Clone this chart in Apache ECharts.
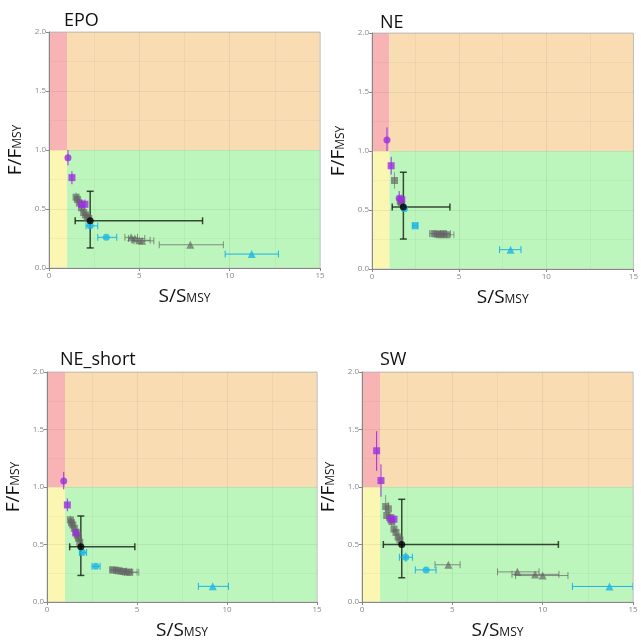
<!DOCTYPE html>
<html>
<head>
<meta charset="utf-8">
<script src="https://cdn.jsdelivr.net/npm/echarts@6/dist/echarts.min.js"></script>
<style>html,body{margin:0;padding:0;background:#fff}#c{width:641px;height:641px}</style>
</head>
<body>
<div id="c"></div>
<script>
// ---------- data: rows are [S/Smsy, F/Fmsy, xLow, xHigh, yLow, yHigh] ----------
const panelNames = ['EPO', 'NE', 'NE_short', 'SW'];
const xTicks = [0, 5, 10, 15];
const yTicks = [0.0, 0.5, 1.0, 1.5, 2.0];
const kobeZones = [[0, 1, 1, 2, 'red'], [1, 15, 1, 2, 'orange'], [0, 1, 0, 1, 'yellow'], [1, 15, 0, 1, 'green']];

// EPO
const epoPurpleCircle = [[1.05, 0.935, null, null, 0.87, 1.0]];
const epoPurpleSquare = [[1.27, 0.766, null, null, 0.71, 0.82], [1.80, 0.54, null, null, 0.50, 0.58], [1.99, 0.54, null, null, 0.50, 0.58]];
const epoGraySquare = [[1.50, 0.60, null, null, 0.56, 0.64], [1.58, 0.58, null, null, 0.54, 0.62], [1.68, 0.55, null, null, 0.51, 0.59], [1.80, 0.51, null, null, 0.47, 0.55], [1.92, 0.47, null, null, 0.44, 0.50], [2.02, 0.45, null, null, 0.42, 0.48], [2.12, 0.43, null, null, 0.40, 0.46], [2.20, 0.42, null, null, 0.39, 0.45]];
const epoBlack = [[2.28, 0.40, 1.45, 8.5, 0.17, 0.65]];
const epoCyanCircle = [[2.28, 0.357, 2.05, 2.7, null, null], [3.17, 0.26, 2.7, 3.75, null, null]];
const epoGrayTriangle = [[4.55, 0.26, 4.2, 4.9, null, null], [4.75, 0.25, 4.4, 5.3, null, null], [5.0, 0.235, 4.6, 5.6, null, null], [5.15, 0.23, 4.7, 5.8, null, null], [7.82, 0.197, 6.1, 9.65, null, null]];
const epoCyanTriangle = [[11.22, 0.118, 9.75, 12.7, null, null]];

// NE
const nePurpleCircle = [[0.86, 1.093, null, null, 1.0, 1.2], [1.56, 0.60, null, null, 0.55, 0.66]];
const nePurpleSquare = [[1.10, 0.875, null, null, 0.80, 0.95], [1.71, 0.587, null, null, 0.54, 0.63]];
const neGraySquare = [[1.29, 0.75, null, null, 0.68, 0.82], [1.62, 0.575, null, null, 0.53, 0.62], [1.68, 0.56, null, null, 0.52, 0.60], [3.55, 0.30, 3.3, 3.9, null, null], [3.75, 0.295, 3.5, 4.1, null, null], [3.95, 0.29, 3.7, 4.3, null, null], [4.1, 0.30, 3.8, 4.5, null, null], [4.3, 0.29, 4.0, 4.7, null, null]];
const neBlack = [[1.80, 0.525, 1.16, 4.47, 0.254, 0.82]];
const neCyanCircle = [[1.86, 0.51, null, null, null, null]];
const neCyanSquare = [[2.48, 0.367, 2.35, 2.6, null, null]];
const neCyanTriangle = [[7.95, 0.164, 7.32, 8.55, null, null]];

// NE_short
const nsPurpleCircle = [[0.93, 1.053, null, null, 0.98, 1.13]];
const nsPurpleSquare = [[1.13, 0.844, null, null, 0.79, 0.90], [1.60, 0.60, null, null, 0.56, 0.64]];
const nsGraySquare = [[1.30, 0.714, null, null, 0.68, 0.75], [1.36, 0.69, null, null, 0.65, 0.73], [1.43, 0.67, null, null, 0.63, 0.71], [1.52, 0.64, null, null, 0.60, 0.68], [1.62, 0.607, null, null, 0.57, 0.64], [1.69, 0.58, null, null, 0.55, 0.61], [1.75, 0.555, null, null, 0.52, 0.59], [1.82, 0.52, null, null, 0.49, 0.55], [3.65, 0.28, 3.5, 3.9, null, null], [3.85, 0.275, 3.6, 4.1, null, null], [4.05, 0.27, 3.8, 4.4, null, null], [4.25, 0.265, 4.0, 4.7, null, null], [4.45, 0.26, 4.2, 5.0, null, null], [4.6, 0.258, 4.3, 5.1, null, null]];
const nsBlack = [[1.88, 0.48, 1.26, 4.88, 0.231, 0.748]];
const nsCyanCircle = [[1.97, 0.43, 1.8, 2.2, null, null], [2.71, 0.31, 2.5, 2.95, null, null]];
const nsCyanTriangle = [[9.21, 0.136, 8.41, 10.08, null, null]];

// SW
const swPurpleSquare = [[0.81, 1.315, null, null, 1.141, 1.485], [1.05, 1.056, null, null, 0.915, 1.197], [1.59, 0.72, null, null, 0.68, 0.76], [1.77, 0.72, null, null, 0.68, 0.76]];
const swGraySquare = [[1.31, 0.83, null, null, 0.78, 0.93], [1.46, 0.81, null, null, 0.76, 0.87], [1.37, 0.752, null, null, 0.71, 0.80], [1.55, 0.735, null, null, 0.69, 0.78], [1.65, 0.70, null, null, 0.66, 0.74], [1.77, 0.634, null, null, 0.60, 0.67], [1.88, 0.605, null, null, 0.57, 0.64], [2.0, 0.565, null, null, 0.53, 0.60], [2.1, 0.54, null, null, 0.51, 0.57]];
const swBlack = [[2.20, 0.50, 1.18, 10.87, 0.211, 0.893]];
const swCyanCircle = [[2.42, 0.389, 2.07, 2.79, 0.35, 0.43], [3.55, 0.279, 2.95, 4.1, null, null]];
const swGrayTriangle = [[4.78, 0.324, 4.04, 5.43, null, null], [8.6, 0.262, 7.5, 9.8, null, null], [9.58, 0.24, 8.3, 10.9, null, null], [10.0, 0.23, 8.5, 11.4, null, null]];
const swCyanTriangle = [[13.7, 0.135, 11.65, 15, null, null]];

// ---------- styles ----------
const zoneColors = { red: '#f8b4b4', orange: '#fadcb3', yellow: '#fbf6b2', green: '#bcf6bc' };
const groupStyle = {
  purpleCircle: { symbol: 'circle', color: '#9a30e0', bar: '#9a30e0', size: 7 },
  purpleSquare: { symbol: 'rect', color: '#9a30e0', bar: '#9a30e0', size: 7 },
  graySquare: { symbol: 'rect', color: 'rgba(100,100,100,0.85)', bar: 'rgba(100,100,100,0.6)', size: 7 },
  grayTriangle: { symbol: 'triangle', color: 'rgba(100,100,100,0.85)', bar: 'rgba(100,100,100,0.7)', size: 8 },
  cyanCircle: { symbol: 'circle', color: '#1cb4ea', bar: '#1cb4ea', size: 7 },
  cyanSquare: { symbol: 'rect', color: '#1cb4ea', bar: '#1cb4ea', size: 7 },
  cyanTriangle: { symbol: 'triangle', color: '#1cb4ea', bar: '#1cb4ea', size: 8 },
  black: { symbol: 'circle', color: '#000', bar: 'rgba(20,30,20,0.8)', size: 7, barWidth: 1.5 }
};

const panels = [
  { groups: [['graySquare', epoGraySquare], ['grayTriangle', epoGrayTriangle], ['purpleCircle', epoPurpleCircle], ['purpleSquare', epoPurpleSquare], ['black', epoBlack], ['cyanCircle', epoCyanCircle], ['cyanTriangle', epoCyanTriangle]] },
  { groups: [['graySquare', neGraySquare], ['purpleCircle', nePurpleCircle], ['purpleSquare', nePurpleSquare], ['black', neBlack], ['cyanCircle', neCyanCircle], ['cyanSquare', neCyanSquare], ['cyanTriangle', neCyanTriangle]] },
  { groups: [['graySquare', nsGraySquare], ['purpleCircle', nsPurpleCircle], ['purpleSquare', nsPurpleSquare], ['black', nsBlack], ['cyanCircle', nsCyanCircle], ['cyanTriangle', nsCyanTriangle]] },
  { groups: [['graySquare', swGraySquare], ['grayTriangle', swGrayTriangle], ['purpleSquare', swPurpleSquare], ['black', swBlack], ['cyanCircle', swCyanCircle], ['cyanTriangle', swCyanTriangle]] }
];

const gridBoxes = [
  { left: 49, top: 32, width: 271, height: 236 },
  { left: 372, top: 33, width: 272, height: 236 },
  { left: 47, top: 372, width: 270, height: 236 },
  { left: 362, top: 372, width: 271, height: 236 }
];
const titlePos = [{ left: 59, top: 7 }, { left: 375, top: 9 }, { left: 55, top: 346 }, { left: 375, top: 346 }];

const FONT = '"Open Sans", "Noto Sans", sans-serif';

const option = { animation: false, backgroundColor: '#fff', title: [], grid: [], xAxis: [], yAxis: [], series: [] };

panels.forEach((p, i) => {
  option.title.push({ text: panelNames[i], left: titlePos[i].left, top: titlePos[i].top, textStyle: { fontFamily: FONT, fontSize: 18, fontWeight: 'normal', color: '#111' } });
  option.grid.push(Object.assign({ show: true, borderColor: '#c8c8c8', borderWidth: 1, backgroundColor: 'transparent' }, gridBoxes[i]));
  option.xAxis.push({
    type: 'value', gridIndex: i, min: xTicks[0], max: xTicks[xTicks.length - 1], interval: 5,
    axisLine: { show: true, onZero: false, lineStyle: { color: '#888' } },
    axisTick: { show: true, length: 3, lineStyle: { color: '#888' } },
    axisLabel: { fontSize: 8, color: '#888', margin: 4, fontFamily: FONT },
    splitLine: { show: true, lineStyle: { color: 'rgba(0,0,0,0.06)' } },
    minorTick: { show: false, splitNumber: 2 },
    minorSplitLine: { show: true, lineStyle: { color: 'rgba(0,0,0,0.035)' } },
    name: '{a|S/S}{b|MSY}', nameLocation: 'middle', nameGap: 19,
    nameTextStyle: { fontFamily: FONT, color: '#111', rich: { a: { fontSize: 19, fontFamily: FONT, color: '#111' }, b: { fontSize: 12, fontFamily: FONT, color: '#111', verticalAlign: 'bottom', padding: [0, 0, 1, 0] } } }
  });
  option.yAxis.push({
    type: 'value', gridIndex: i, min: yTicks[0], max: yTicks[yTicks.length - 1], interval: 0.5,
    axisLine: { show: true, onZero: false, lineStyle: { color: '#888' } },
    axisTick: { show: true, length: 3, lineStyle: { color: '#888' } },
    axisLabel: { fontSize: 8, color: '#888', margin: 3, fontFamily: FONT, formatter: v => v.toFixed(1) },
    splitLine: { show: true, lineStyle: { color: 'rgba(0,0,0,0.06)' } },
    minorTick: { show: false, splitNumber: 2 },
    minorSplitLine: { show: true, lineStyle: { color: 'rgba(0,0,0,0.035)' } },
    name: '{a|F/F}{b|MSY}', nameLocation: 'middle', nameGap: 24, nameRotate: 90,
    nameTextStyle: { fontFamily: FONT, color: '#111', rich: { a: { fontSize: 19, fontFamily: FONT, color: '#111' }, b: { fontSize: 12, fontFamily: FONT, color: '#111', verticalAlign: 'bottom', padding: [0, 0, 1, 0] } } }
  });

  // background kobe zones
  option.series.push({
    type: 'custom', xAxisIndex: i, yAxisIndex: i, z: -1, silent: true, clip: true,
    data: kobeZones,
    renderItem: (params, api) => {
      const z = kobeZones[params.dataIndex];
      const p0 = api.coord([z[0], z[3]]);
      const p1 = api.coord([z[1], z[2]]);
      return { type: 'rect', shape: { x: p0[0], y: p0[1], width: p1[0] - p0[0], height: p1[1] - p0[1] }, style: { fill: zoneColors[z[4]] } };
    }
  });

  // error bars
  p.groups.forEach(([g, rows]) => {
    const st = groupStyle[g];
    option.series.push({
      type: 'custom', xAxisIndex: i, yAxisIndex: i, z: 3, silent: true, clip: true,
      data: rows.map(r => r.map(v => v === null ? '-' : v)),
      encode: { x: 0, y: 1 },
      renderItem: (params, api) => {
        const r = rows[params.dataIndex];
        const children = [];
        const cap = 3.5;
        const style = { stroke: st.bar, lineWidth: st.barWidth || 1 };
        if (r[2] !== null && r[3] !== null) {
          const a = api.coord([r[2], r[1]]), b = api.coord([r[3], r[1]]);
          children.push({ type: 'line', shape: { x1: a[0], y1: a[1], x2: b[0], y2: b[1] }, style });
          children.push({ type: 'line', shape: { x1: a[0], y1: a[1] - cap, x2: a[0], y2: a[1] + cap }, style });
          children.push({ type: 'line', shape: { x1: b[0], y1: b[1] - cap, x2: b[0], y2: b[1] + cap }, style });
        }
        if (r[4] !== null && r[5] !== null) {
          const a = api.coord([r[0], r[4]]), b = api.coord([r[0], r[5]]);
          children.push({ type: 'line', shape: { x1: a[0], y1: a[1], x2: b[0], y2: b[1] }, style });
          if (g === 'black') {
            children.push({ type: 'line', shape: { x1: a[0] - cap, y1: a[1], x2: a[0] + cap, y2: a[1] }, style });
            children.push({ type: 'line', shape: { x1: b[0] - cap, y1: b[1], x2: b[0] + cap, y2: b[1] }, style });
          }
        }
        return { type: 'group', children };
      }
    });
  });

  // markers
  p.groups.forEach(([g, rows]) => {
    const st = groupStyle[g];
    option.series.push({
      type: 'scatter', xAxisIndex: i, yAxisIndex: i, z: g === 'black' ? 6 : 5, silent: true,
      symbol: st.symbol, symbolSize: st.size,
      itemStyle: { color: st.color },
      data: rows.map(r => [r[0], r[1]])
    });
  });
});

const chart = echarts.init(document.getElementById('c'), null, { renderer: 'canvas' });
chart.setOption(option);
</script>
</body>
</html>
